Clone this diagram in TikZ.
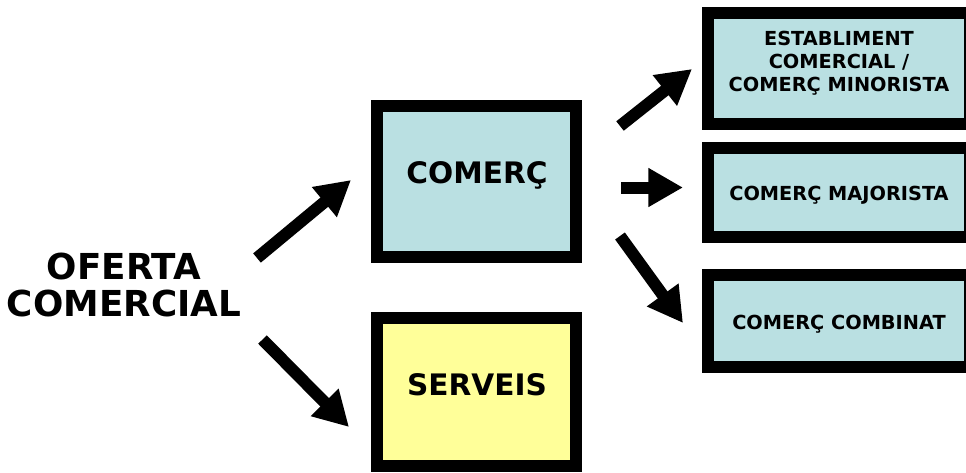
\documentclass[tikz,border=0pt]{standalone}
\usepackage{fontspec}
\setmainfont{DejaVu Sans}
\usetikzlibrary{arrows.meta}
\definecolor{boxblue}{HTML}{BAE0E2}
\definecolor{boxyellow}{HTML}{FFFF99}
\tikzset{
  px/.style={x=0.75pt,y=-0.75pt},
  framed/.style={draw=black,line width=9pt,inner sep=0pt,align=center},
  bigbox/.style={framed,minimum width=149.25pt,minimum height=113.25pt},
  sidebox/.style={framed,fill=boxblue,minimum width=196.5pt},
  bigtext/.style={font=\bfseries\fontsize{22.2}{25}\selectfont},
  smalltext/.style={align=center,font=\bfseries\fontsize{14.5}{17.4}\selectfont},
  fat/.style={line width=9pt,-{Triangle[length=26pt,width=27.5pt]}}
}
\begin{document}
\begin{tikzpicture}[px]
  \useasboundingbox (0,0) rectangle (966,472);
  \clip (0,0) rectangle (966,472);

  % starting label
  \node[align=center,font=\bfseries\fontsize{26.8}{27.5}\selectfont] (oferta) at (124,285)
    {OFERTA\\COMERCIAL};

  % second level
  \node[bigbox,fill=boxblue] (comerc) at (476.5,181.5) {};
  \node[bigtext] (comerct) at (477,175) {COMERÇ};
  \node[bigbox,fill=boxyellow,minimum height=111pt] (serveis) at (476.5,392) {};
  \node[bigtext] (serveist) at (477,385) {SERVEIS};

  % third level
  \node[sidebox,minimum height=83.25pt] (minor) at (839,68.5) {};
  \node[smalltext] (minort) at (839,63.5)
    {ESTABLIMENT\\COMERCIAL /\\COMERÇ MINORISTA};
  \node[sidebox,minimum height=66.75pt] (major) at (839,192.5) {};
  \node[smalltext] (majort) at (839,195) {COMERÇ MAJORISTA};
  \node[sidebox,minimum height=69pt] (combi) at (839,321) {};
  \node[smalltext] (combit) at (839,324) {COMERÇ COMBINAT};

  % connector ends
  \coordinate (a1s) at (257,258);   \coordinate (a1e) at (351,180);
  \coordinate (a2s) at (262.5,339.5); \coordinate (a2e) at (349,427);
  \coordinate (a3s) at (620,126);   \coordinate (a3e) at (692,69);
  \coordinate (a4s) at (621,187.5); \coordinate (a4e) at (683,187.5);
  \coordinate (a5s) at (620,236);   \coordinate (a5e) at (683,323);

  \draw[fat] (a1s) -- (a1e);
  \draw[fat] (a2s) -- (a2e);
  \draw[fat] (a3s) -- (a3e);
  \draw[fat] (a4s) -- (a4e);
  \draw[fat] (a5s) -- (a5e);
\end{tikzpicture}
\end{document}
